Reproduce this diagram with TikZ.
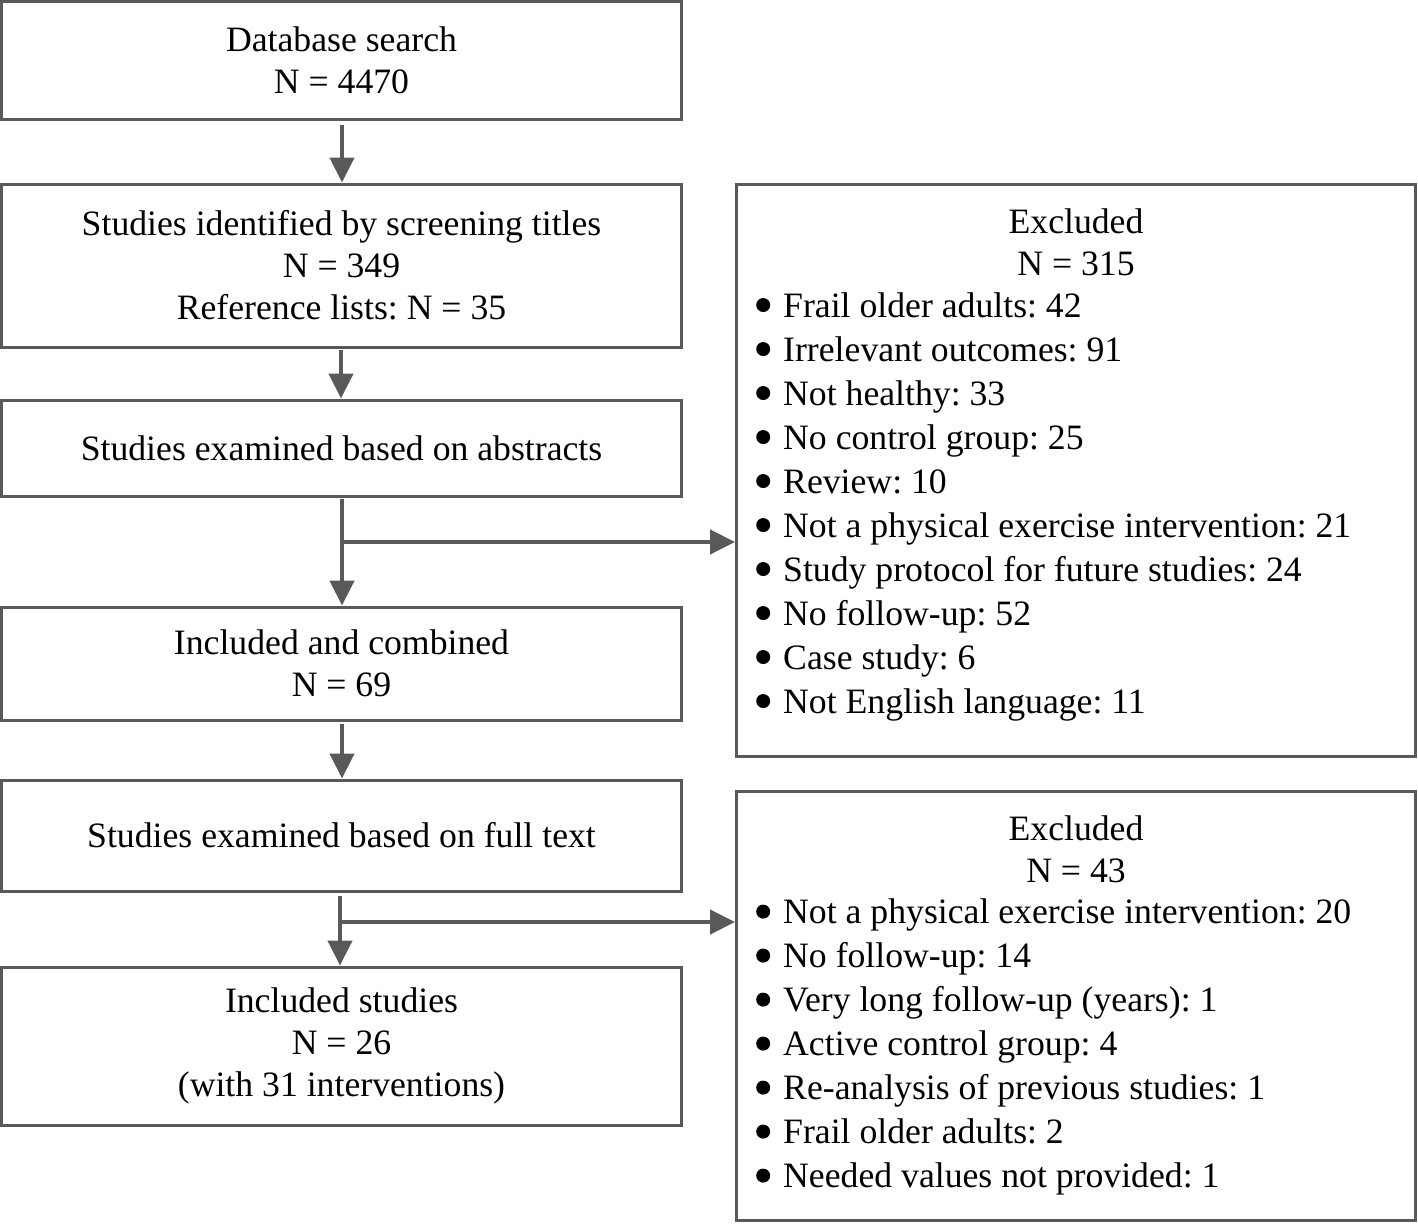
\documentclass[tikz,border=0pt]{standalone}
\usepackage{fontspec}
\setmainfont{Liberation Serif}
\usetikzlibrary{arrows.meta,calc}
\definecolor{linegray}{HTML}{595959}
\newcommand\bulletmark{\tikz[baseline=0pt]\fill[black] (0pt,12pt) circle[radius=7pt];\hspace{13pt}}
\begin{document}
\frenchspacing
\begin{tikzpicture}[x=1pt,y=-1pt,
  every node/.style={font=\fontsize{35.7}{42}\selectfont\frenchspacing},
  leftbox/.style={draw=linegray,line width=3pt,minimum width=680pt,align=center,inner sep=0pt},
  rightbox/.style={draw=linegray,line width=3pt,minimum width=679pt,inner sep=0pt},
  listtext/.style={align=left,inner sep=0pt,font=\fontsize{35.7}{44}\selectfont\frenchspacing},
  headtext/.style={align=center,inner sep=0pt,font=\fontsize{35.7}{42}\selectfont},
  arr/.style={draw=linegray,line width=4.5pt,-{Triangle[width=24pt,length=25pt]}}
]
\useasboundingbox (0,0) rectangle (1418,1223);
% left column
\node[leftbox,minimum height=118pt] (b1) at (341.5,60.5) {Database search\\N = 4470};
\node[leftbox,minimum height=163pt] (b2) at (341.5,265.5) {Studies identified by screening titles\\N = 349\\Reference lists: N = 35};
\node[leftbox,minimum height=96pt] (b3) at (341.5,448) {Studies examined based on abstracts};
\node[leftbox,minimum height=113pt] (b4) at (341.5,663.5) {Included and combined\\N = 69};
\node[leftbox,minimum height=111pt] (b5) at (341.5,835.5) {Studies examined based on full text};
\node[leftbox,minimum height=158pt] (b6) at (341.5,1046) {Included studies\\N = 26\\(with 31 interventions)};
% right column
\node[rightbox,minimum height=572pt] (r1) at (1076,470) {};
\node[headtext] (h1) at (1076,242) {Excluded\\N = 315};
\node[listtext,anchor=west] (l1) at (756,506.5) {%
\bulletmark Frail older adults: 42\\
\bulletmark Irrelevant outcomes: 91\\
\bulletmark Not healthy: 33\\
\bulletmark No control group: 25\\
\bulletmark Review: 10\\
\bulletmark Not a physical exercise intervention: 21\\
\bulletmark Study protocol for future studies: 24\\
\bulletmark No follow-up: 52\\
\bulletmark Case study: 6\\
\bulletmark Not English language: 11};
\node[rightbox,minimum height=429pt] (r2) at (1076,1005.5) {};
\node[headtext] (h2) at (1076,849) {Excluded\\N = 43};
\node[listtext,anchor=west] (l2) at (756,1047) {%
\bulletmark Not a physical exercise intervention: 20\\
\bulletmark No follow-up: 14\\
\bulletmark Very long follow-up (years): 1\\
\bulletmark Active control group: 4\\
\bulletmark Re-analysis of previous studies: 1\\
\bulletmark Frail older adults: 2\\
\bulletmark Needed values not provided: 1};
% connectors
\coordinate (a1s) at (342,125);
\draw[arr] (a1s) -- (a1s |- b2.north);
\coordinate (a2s) at (341,350);
\draw[arr] (a2s) -- (a2s |- b3.north);
\coordinate (a3s) at (342,499);
\draw[arr] (a3s) -- (a3s |- b4.north);
\coordinate (br1) at (342,542);
\draw[arr] (br1) -- (br1 -| r1.west);
\coordinate (a4s) at (342,724);
\draw[arr] (a4s) -- (a4s |- b5.north);
\coordinate (a5s) at (340,896);
\draw[arr] (a5s) -- (a5s |- b6.north);
\coordinate (br2) at (340,922);
\draw[arr] (br2) -- (br2 -| r2.west);
\end{tikzpicture}
\end{document}
